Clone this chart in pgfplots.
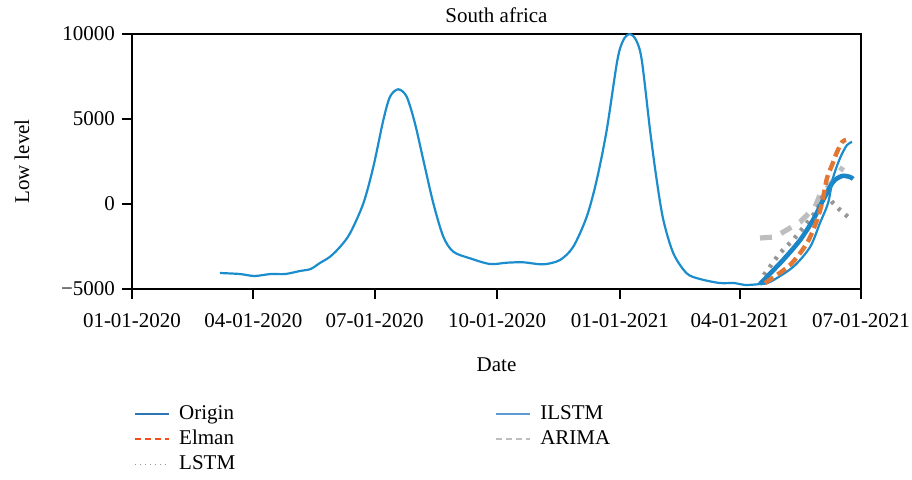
\documentclass[border=0pt]{standalone}
\usepackage{fontspec}
\setmainfont{Liberation Serif}
\usepackage{pgfplots}
\pgfplotsset{compat=1.18}
\definecolor{histblue}{RGB}{27,141,204}
\definecolor{ilstmblue}{RGB}{26,134,200}
\definecolor{legorigin}{RGB}{46,117,182}
\definecolor{legilstm}{RGB}{91,155,213}
\definecolor{elman}{RGB}{226,118,52}
\definecolor{legelman}{RGB}{240,80,30}
\definecolor{lstm}{RGB}{150,150,150}
\definecolor{arima}{RGB}{190,190,190}
\begin{document}
\begin{tikzpicture}
\path[use as bounding box] (-66pt,-95pt) rectangle (390pt,144.5pt);
\begin{axis}[
  at={(0,0)}, anchor=south west,
  scale only axis, width=364.5pt, height=127.5pt,
  xmin=0, xmax=547, ymin=-5000, ymax=10000,
  xtick={0,91,182,274,366,456,547},
  xticklabels={01-01-2020,04-01-2020,07-01-2020,10-01-2020,01-01-2021,04-01-2021,07-01-2021},
  ytick={-5000,0,5000,10000},
  yticklabels={−5000,0,5000,10000},
  scaled y ticks=false,
  tick align=outside, xtick pos=bottom, ytick pos=left,
  major tick length=5pt,
  every tick/.style={black, line width=1pt},
  axis line style={line width=0.8pt},
  tick label style={font=\fontsize{10.5}{12}\selectfont},
  xticklabel style={yshift=-3.5pt},
  clip=false,
  every axis title shift=0pt,
  title={South africa},
  title style={at={(0.5,1.0745)}, anchor=center, yshift=0pt, inner sep=0pt, font=\fontsize{10.5}{12}\selectfont},
  xlabel={Date},
  xlabel style={at={(0.5,-0.298)}, anchor=center, yshift=0pt, inner sep=0pt, font=\fontsize{10.5}{12}\selectfont},
  ylabel={Low level},
  ylabel style={at={(-0.151,0.5)}, anchor=center, inner sep=0pt, font=\fontsize{10.5}{12}\selectfont},
  legend columns=2,
  legend cell align=left,
  legend style={at={(-0.006,-0.423)}, anchor=north west, draw=none, fill=none,
    font=\fontsize{10.5}{12}\selectfont, row sep=0pt,
    /tikz/every odd column/.append style={column sep=2.5pt},
    /tikz/every even column/.append style={column sep=128pt}},
]
% ARIMA
\addplot[forget plot, arima, line width=2.6pt, dash pattern=on 6pt off 5pt] coordinates {
(471.2,-2000) (482.5,-1941) (493.7,-1412) (501.3,-1059) (512.5,-176) (516.2,529) (523.7,1118) (533.5,2176)
};
% LSTM
\addplot[forget plot, lstm, line width=2.2pt, dash pattern=on 1.6pt off 3.2pt] coordinates {
(474.1,-4176) (486.2,-2882) (496.0,-2118) (506.5,-1118) (514.0,-353) (519.6,706) (526.0,59) (531.3,-353) (537.3,-765)
};
% ILSTM thick
\addplot[forget plot, ilstmblue, line width=2.3pt, smooth] coordinates {
(471.2,-4706) (488.5,-3294) (501.3,-2118) (511.0,-941) (518.6,235) (526.0,1294) (532.8,1647) (538.8,1588) (541.0,1471)
};
% Origin (history + actual)
\addplot[forget plot, histblue, line width=1.1pt, smooth] coordinates {
(66,-4059) (81,-4118) (92,-4235) (104,-4118) (115,-4118) (126,-3941) (134,-3824) (141,-3471) (148.6,-3100)
(156,-2530) (163.6,-1724) (173.6,41) (181.1,2194) (188.6,4941) (193.6,6312) (199.8,6747) (206.1,6312) (212.3,4747)
(218.6,2588) (226.1,41) (233.6,-1924) (241.1,-2806) (253.6,-3194) (268.6,-3529) (281.2,-3453) (293.6,-3429)
(308.6,-3547) (321.1,-3294) (331.1,-2512) (341.2,-747) (348.7,1412) (356.2,4353) (364.2,8470)
(368.7,9647) (373.4,9990) (378.2,9647) (382.5,8470) (388.7,4353) (393.7,1412) (398.7,-941)
(406.2,-2900) (416.2,-4076) (426.2,-4412) (441,-4647) (452,-4647) (460,-4765) (471.2,-4706)
(478.7,-4588) (496.0,-3706) (508.8,-2529) (516.2,-1118) (522.3,59) (526.0,1529) (531.3,2706) (536.5,3471) (540.3,3647)
};
% Elman
\addplot[forget plot, elman, line width=2.2pt, dash pattern=on 5pt off 2.5pt, smooth] coordinates {
(475.0,-4647) (493.7,-3588) (506.5,-2294) (514.0,-941) (517.7,59) (521.5,1529) (525.3,2294) (529.0,3059) (532.8,3647) (535.8,3765)
};
\addlegendimage{legorigin, line width=1pt}
\addlegendentry{Origin}
\addlegendimage{legilstm, line width=1pt}
\addlegendentry{ILSTM}
\addlegendimage{legelman, line width=0.8pt, dash pattern=on 3pt off 2pt}
\addlegendentry{Elman}
\addlegendimage{arima, line width=0.8pt, dash pattern=on 3pt off 2pt}
\addlegendentry{ARIMA}
\addlegendimage{lstm, line width=0.5pt, dash pattern=on 0.5pt off 2pt}
\addlegendentry{LSTM}
\end{axis}
\end{tikzpicture}
\end{document}
